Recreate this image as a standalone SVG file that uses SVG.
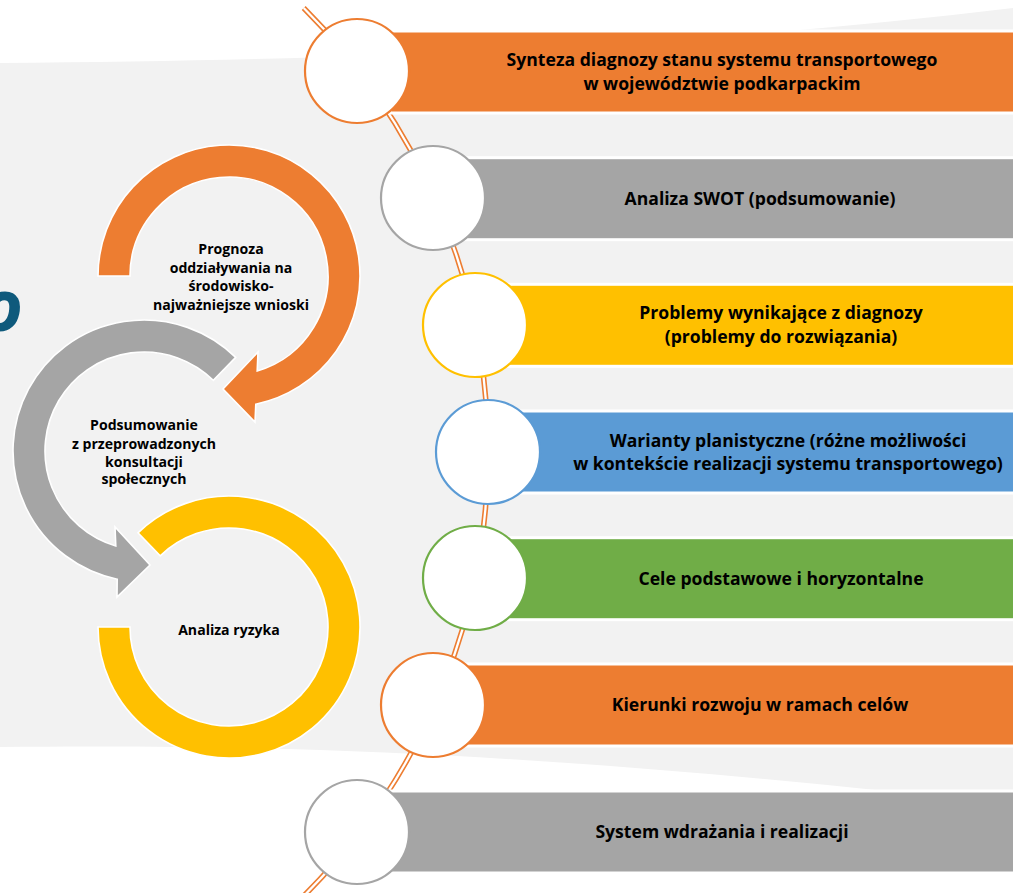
<svg xmlns="http://www.w3.org/2000/svg" width="1013" height="893" viewBox="0 0 1013 893">
<style>
.bar{stroke:#fff;stroke-width:3}
.ring{fill:#fff;stroke-width:2.2}
.bt{font-family:"Open Sans","Liberation Sans",sans-serif;font-weight:bold;font-size:17.6px;fill:#000;text-anchor:middle}
.lt{font-family:"Open Sans","Liberation Sans",sans-serif;font-weight:bold;font-size:14.1px;fill:#000;text-anchor:middle}
.arc{stroke:#fff;stroke-width:1.6}
</style>
<rect width="1013" height="893" fill="#fff"/>
<path d="M0,63 C400,60 700,45 1013,8 L1013,805 C700,770 400,742 0,747 Z" fill="#F2F2F2"/>
<text x="23" y="331" font-family="Open Sans, Liberation Sans, sans-serif" font-style="italic" font-weight="bold" font-size="72" fill="#0F5A7C" text-anchor="end">o</text>

<g id="cycle">
<g id="analiza-ryzyka">
<path class="arc" fill="#FFC000" d="M138,532.8 A131,131 0 1 1 98,627 L130,627 A99,99 0 1 0 160.2,555.8 Z"/>
<text class="lt" x="229" y="635">Analiza ryzyka</text>
</g>
<g id="podsumowanie">
<path class="arc" fill="#A5A5A5" d="M235.7,357.4 A131,131 0 1 0 117.2,579.2 L117,597 L150,565 L115,527 L115.8,545.9 A99,99 0 1 1 213.3,380.3 Z"/>
<text class="lt" x="144" y="430">Podsumowanie</text>
<text class="lt" x="144" y="448.5">z przeprowadzonych</text>
<text class="lt" x="144" y="466.5">konsultacji</text>
<text class="lt" x="144" y="484">społecznych</text>
</g>
<g id="prognoza">
<path class="arc" fill="#ED7D31" d="M98,276 A131,131 0 1 1 255.8,404.2 L255,422 L223,389 L258,352 L257.2,370.9 A99,99 0 1 0 130,276 Z"/>
<text class="lt" x="231" y="254">Prognoza</text>
<text class="lt" x="231" y="272.5">oddziaływania na</text>
<text class="lt" x="231" y="291">środowisko-</text>
<text class="lt" x="231" y="309.5">najważniejsze wnioski</text>
</g>
</g>

<g id="connectors">
<path d="M303.7,8 A627,627 0 0 1 303.7,896" fill="none" stroke="#ED7D31" stroke-width="5.5"/>
<path d="M303.7,8 A627,627 0 0 1 303.7,896" fill="none" stroke="#fff" stroke-width="2.3"/>
</g>

<g id="step1">
<rect class="bar" x="390" y="31" width="630" height="82" fill="#ED7D31"/>
<circle class="ring" cx="357" cy="71" r="52" stroke="#ED7D31"/>
<text class="bt" x="722" y="66">Synteza diagnozy stanu systemu transportowego</text>
<text class="bt" x="722" y="90">w województwie podkarpackim</text>
</g>
<g id="step2">
<rect class="bar" x="466" y="157.7" width="560" height="82" fill="#A5A5A5"/>
<circle class="ring" cx="433" cy="198" r="52" stroke="#A5A5A5"/>
<text class="bt" x="760" y="204.5">Analiza SWOT (podsumowanie)</text>
</g>
<g id="step3">
<rect class="bar" x="508" y="284.3" width="520" height="82" fill="#FFC000"/>
<circle class="ring" cx="475" cy="325" r="52" stroke="#FFC000"/>
<text class="bt" x="781" y="319">Problemy wynikające z diagnozy</text>
<text class="bt" x="781" y="343">(problemy do rozwiązania)</text>
</g>
<g id="step4">
<rect class="bar" x="521" y="411" width="510" height="82" fill="#5B9BD5"/>
<circle class="ring" cx="488" cy="452" r="52" stroke="#5B9BD5"/>
<text class="bt" x="788" y="446.5">Warianty planistyczne (różne możliwości</text>
<text class="bt" x="788" y="470">w kontekście realizacji systemu transportowego)</text>
</g>
<g id="step5">
<rect class="bar" x="508" y="537.7" width="520" height="82" fill="#70AD47"/>
<circle class="ring" cx="475" cy="578" r="52" stroke="#70AD47"/>
<text class="bt" x="781" y="584.5">Cele podstawowe i horyzontalne</text>
</g>
<g id="step6">
<rect class="bar" x="466" y="664" width="560" height="82" fill="#ED7D31"/>
<circle class="ring" cx="433" cy="705" r="52" stroke="#ED7D31"/>
<text class="bt" x="760" y="711">Kierunki rozwoju w ramach celów</text>
</g>
<g id="step7">
<rect class="bar" x="390" y="791" width="630" height="82" fill="#A5A5A5"/>
<circle class="ring" cx="357" cy="832" r="52" stroke="#A5A5A5"/>
<text class="bt" x="722" y="838">System wdrażania i realizacji</text>
</g>
</svg>
